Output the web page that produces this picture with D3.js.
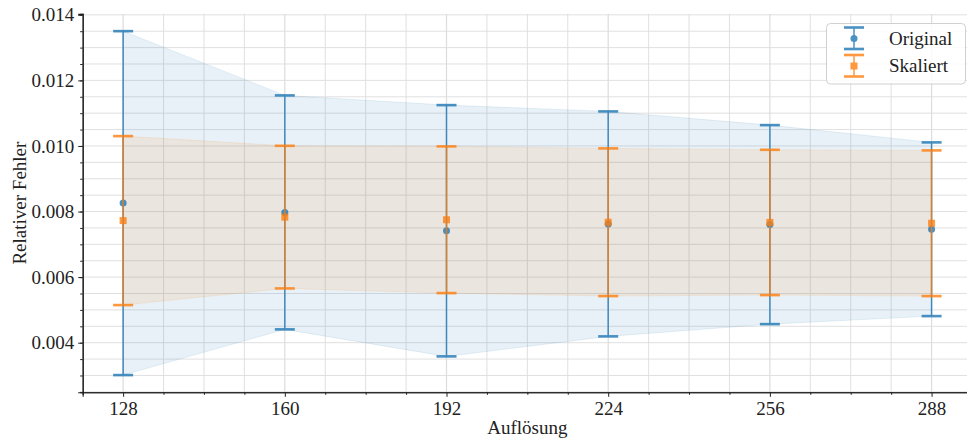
<!DOCTYPE html>
<html>
<head>
<meta charset="utf-8">
<script src="https://cdn.jsdelivr.net/npm/d3@7"></script>
<style>
  body { margin: 0; background: #fff; }
  svg text { font-family: "Liberation Serif", "DejaVu Serif", serif; fill: #222; }
</style>
</head>
<body>
<svg id="chart" width="967" height="438"></svg>
<script>
// resolutions on x
var aufloesung = [128, 160, 192, 224, 256, 288];

// original: mean and spread of the relative error
var originalMean = [0.008257, 0.007974, 0.007414, 0.007623, 0.007601, 0.00746];
var originalStd  = [0.005245, 0.003568, 0.003832, 0.003431, 0.003035, 0.002649];

// scaled
var skaliertMean = [0.007724, 0.00783, 0.00775, 0.007674, 0.007668, 0.007643];
var skaliertStd  = [0.002577, 0.002175, 0.002237, 0.002252, 0.002216, 0.002222];

var yTicks = [0.004, 0.006, 0.008, 0.010, 0.012, 0.014];

var svg = d3.select('#chart');
var mLeft = 82.7, mRight = 972, mTop = 13.9, mBottom = 392.3;

var x = d3.scaleLinear().domain([120, 296]).range([mLeft, mRight]);
var y = d3.scaleLinear().domain([0.002487, 0.014028]).range([mBottom, mTop]);

var minorX = d3.range(120, 297, 8);
var minorY = d3.range(0.0025, 0.01401, 0.0005);

// grid
var grid = svg.append('g');
grid.selectAll('.gx').data(minorX).enter().append('line')
  .attr('x1', d => x(d)).attr('x2', d => x(d))
  .attr('y1', mTop).attr('y2', mBottom)
  .attr('stroke', '#dcdcdc').attr('stroke-width', d => (d - 128) % 32 == 0 ? 1.2 : 0.9);
grid.selectAll('.gy').data(minorY).enter().append('line')
  .attr('x1', mLeft).attr('x2', mRight)
  .attr('y1', d => y(d)).attr('y2', d => y(d))
  .attr('stroke', '#dcdcdc').attr('stroke-width', 0.9);

var series = [
  { name: 'Original', mean: originalMean, std: originalStd, color: '#1f77b4', marker: 'circle' },
  { name: 'Skaliert', mean: skaliertMean, std: skaliertStd, color: '#ff7f0e', marker: 'square' }
];

// shaded bands
series.forEach(function (s) {
  var pts = aufloesung.map((a, i) => ({ a: a, lo: s.mean[i] - s.std[i], hi: s.mean[i] + s.std[i] }));
  var area = d3.area().x(d => x(d.a)).y0(d => y(d.lo)).y1(d => y(d.hi));
  svg.append('path').datum(pts).attr('d', area)
    .attr('fill', s.color).attr('fill-opacity', 0.1)
    .attr('stroke', s.color).attr('stroke-opacity', 0.1).attr('stroke-width', 1);
});

// error bars
series.forEach(function (s) {
  var g = svg.append('g').attr('opacity', 0.8);
  aufloesung.forEach(function (a, i) {
    var lo = s.mean[i] - s.std[i], hi = s.mean[i] + s.std[i];
    g.append('line').attr('x1', x(a)).attr('x2', x(a)).attr('y1', y(lo)).attr('y2', y(hi))
      .attr('stroke', s.color).attr('stroke-width', 1.5);
    [lo, hi].forEach(function (v) {
      g.append('line').attr('x1', x(a) - 10).attr('x2', x(a) + 10).attr('y1', y(v)).attr('y2', y(v))
        .attr('stroke', s.color).attr('stroke-width', 2.6);
    });
    if (s.marker == 'circle') {
      g.append('circle').attr('cx', x(a)).attr('cy', y(s.mean[i])).attr('r', 3.5).attr('fill', s.color);
    } else {
      g.append('rect').attr('x', x(a) - 3.5).attr('y', y(s.mean[i]) - 3.5)
        .attr('width', 7).attr('height', 7).attr('fill', s.color);
    }
  });
});

// axes
svg.append('g').attr('transform', 'translate(0,' + mBottom + ')')
  .call(d3.axisBottom(x).tickValues(aufloesung).tickSize(4.5).tickPadding(5).tickFormat(d3.format('d')));
svg.append('g').attr('transform', 'translate(0,' + mBottom + ')')
  .call(d3.axisBottom(x).tickValues(minorX.filter(d => (d - 128) % 32 != 0)).tickSize(2.5).tickFormat(''));
svg.append('g').attr('transform', 'translate(' + mLeft + ',0)')
  .call(d3.axisLeft(y).tickValues(yTicks).tickSize(4.5).tickPadding(4).tickFormat(d3.format('.3f')));
svg.append('g').attr('transform', 'translate(' + mLeft + ',0)')
  .call(d3.axisLeft(y).tickValues(minorY).tickSize(2.5).tickFormat(''));

svg.selectAll('.domain').attr('stroke', '#222').attr('stroke-width', 1.1);
svg.selectAll('.tick line').attr('stroke', '#222');
svg.selectAll('.tick text').style('font-size', '19px').attr('fill', '#222');

// axis labels
svg.append('text').attr('x', (mLeft + mRight) / 2).attr('y', 434).attr('text-anchor', 'middle')
  .style('font-size', '19px').text('Auflösung');
svg.append('text').attr('transform', 'translate(26,' + (mTop + mBottom) / 2 + ') rotate(-90)')
  .attr('text-anchor', 'middle').style('font-size', '19px').text('Relativer Fehler');

// legend
var lg = svg.append('g');
lg.append('rect').attr('x', 826.5).attr('y', 23.5).attr('width', 139).attr('height', 60.5)
  .attr('rx', 4).attr('fill', '#fff').attr('fill-opacity', 0.85).attr('stroke', '#d0d0d0');
series.forEach(function (s, i) {
  var cy = 38.5 + i * 27.5, cx = 854;
  var g = lg.append('g').attr('opacity', 0.8);
  g.append('line').attr('x1', cx).attr('x2', cx).attr('y1', cy - 11).attr('y2', cy + 10.5)
    .attr('stroke', s.color).attr('stroke-width', 1.5);
  [cy - 11, cy + 10.5].forEach(function (cyy) {
    g.append('line').attr('x1', cx - 10).attr('x2', cx + 10).attr('y1', cyy).attr('y2', cyy)
      .attr('stroke', s.color).attr('stroke-width', 2.6);
  });
  if (s.marker == 'circle') g.append('circle').attr('cx', cx).attr('cy', cy).attr('r', 3.5).attr('fill', s.color);
  else g.append('rect').attr('x', cx - 3.5).attr('y', cy - 3.5).attr('width', 7).attr('height', 7).attr('fill', s.color);
  lg.append('text').attr('x', 889).attr('y', cy + 6).style('font-size', '19px').text(s.name);
});
</script>
</body>
</html>
